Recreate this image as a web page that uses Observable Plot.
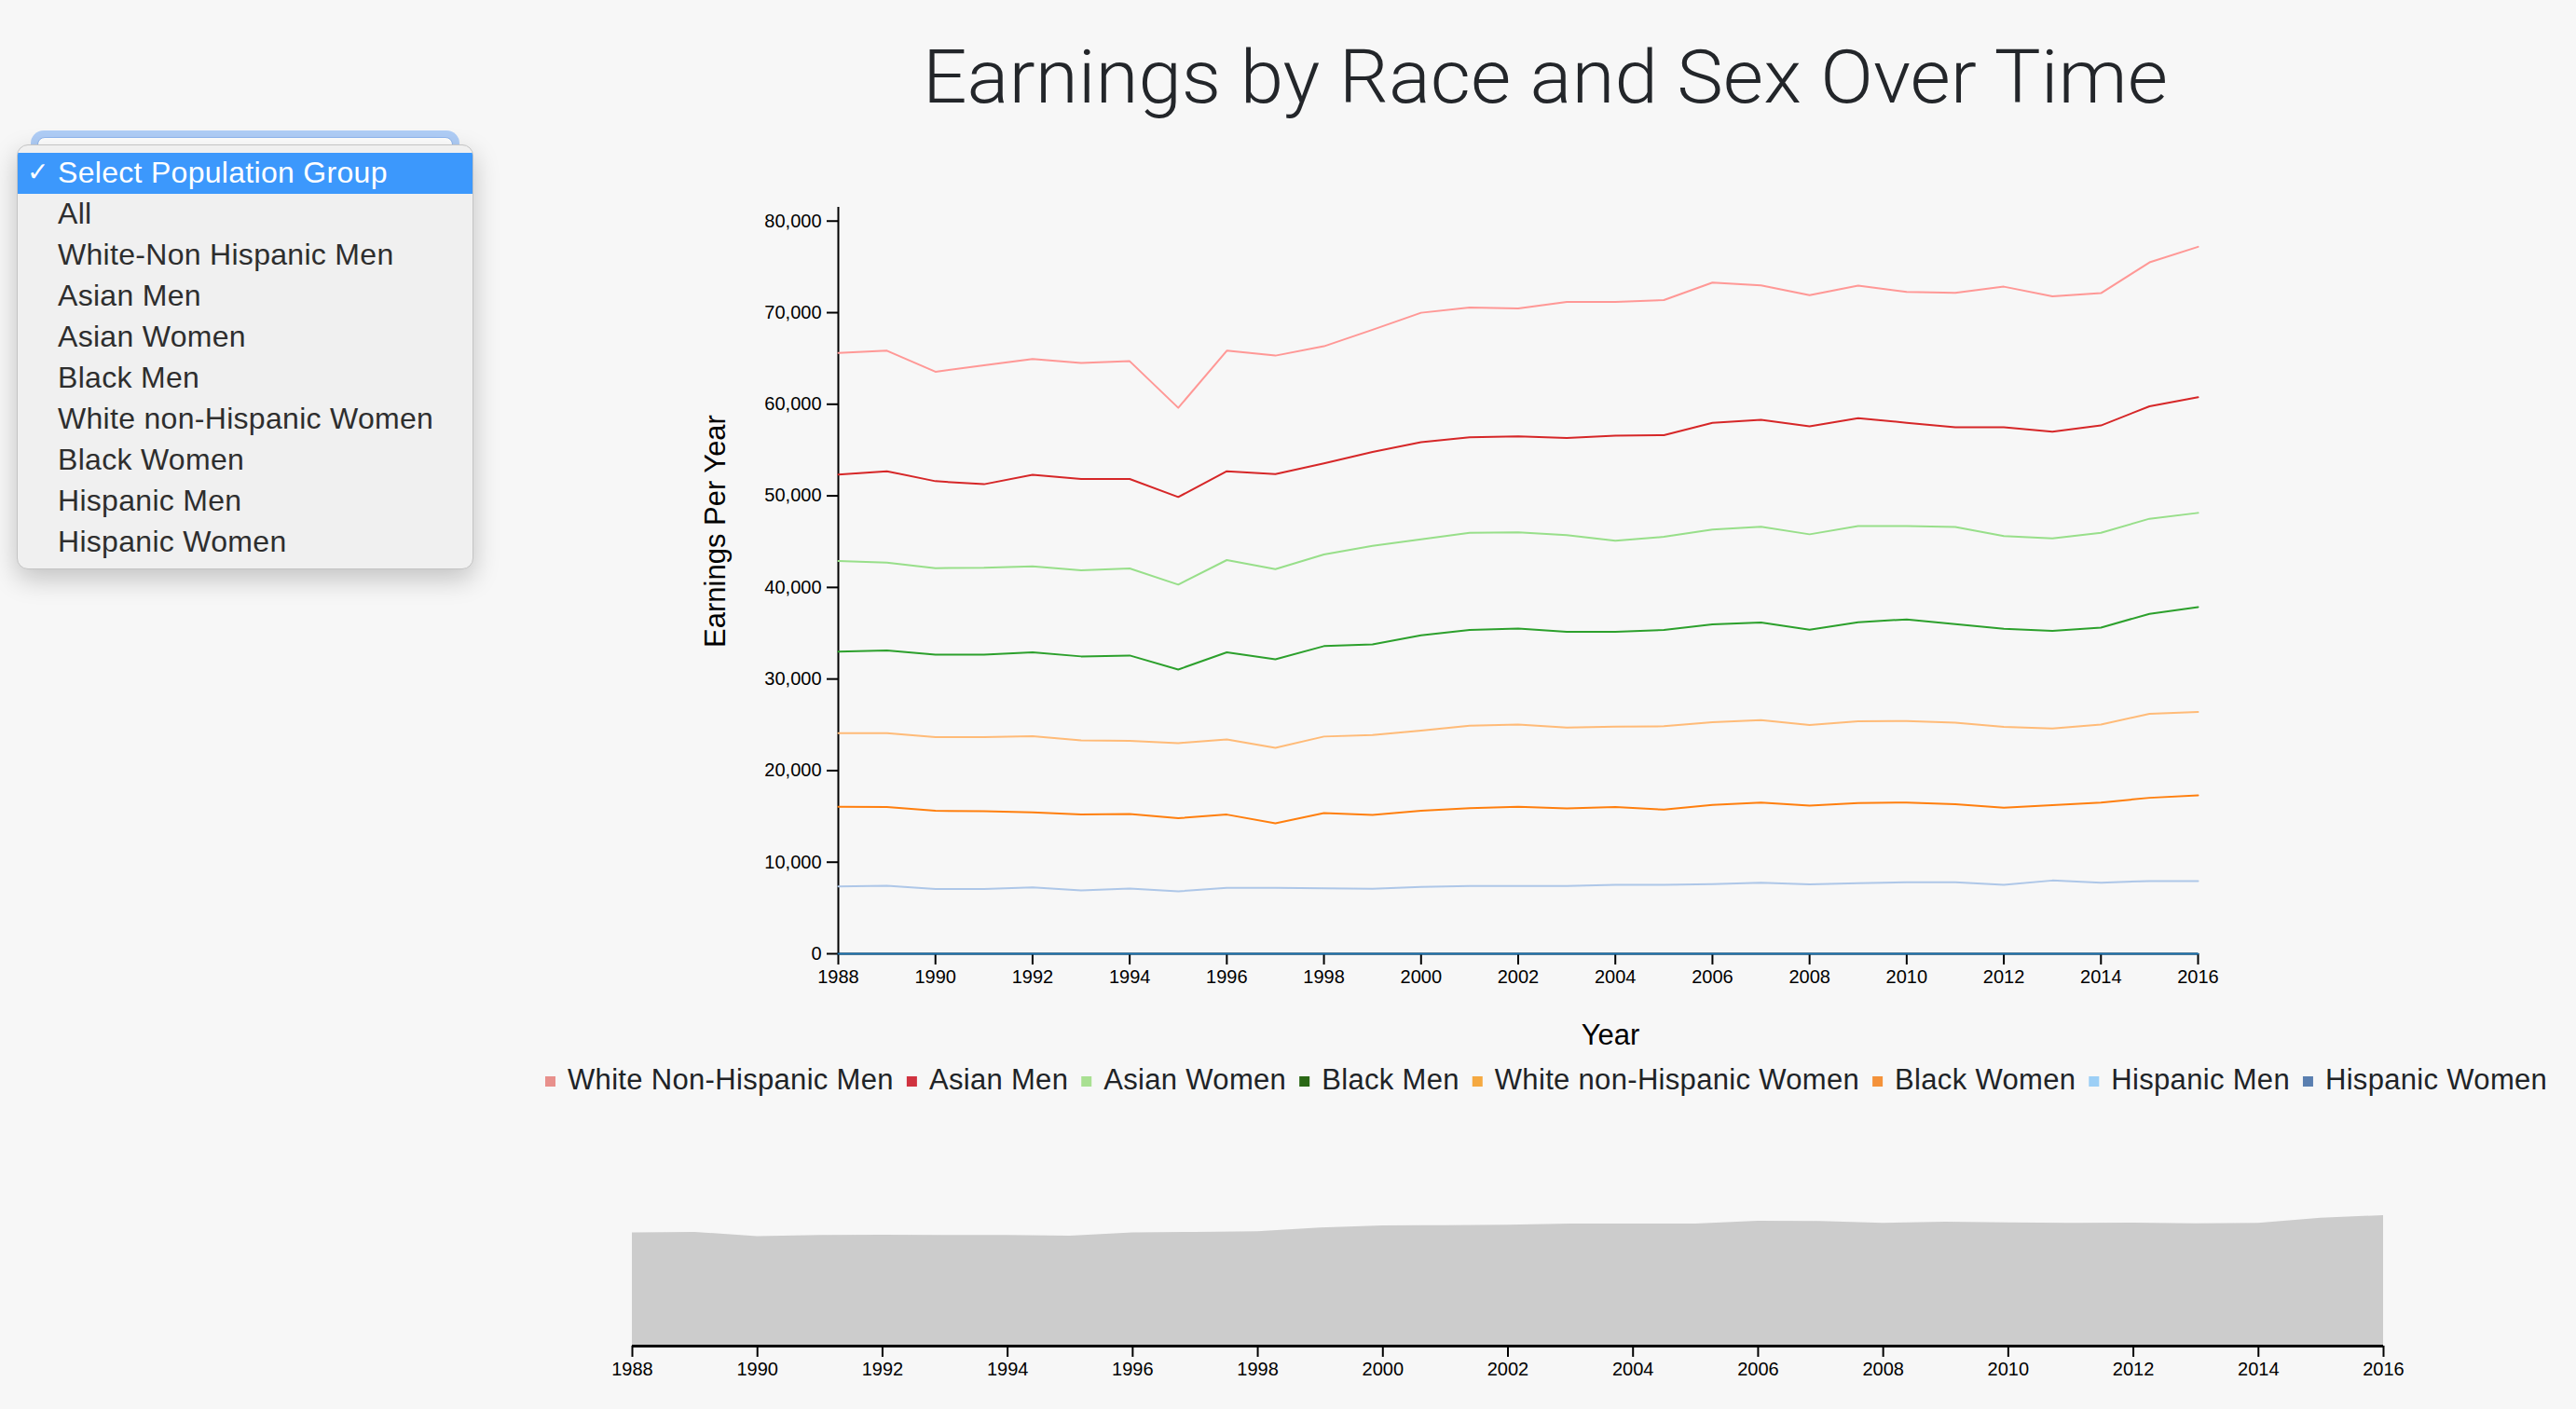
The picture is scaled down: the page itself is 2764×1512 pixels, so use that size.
<!DOCTYPE html>
<html>
<head>
<meta charset="utf-8">
<script src="https://cdn.jsdelivr.net/npm/d3@7"></script>
<script src="https://cdn.jsdelivr.net/npm/@observablehq/plot@0.6"></script>
<style>
html, body { margin: 0; padding: 0; background: #f7f7f7; }
body { width: 2764px; height: 1512px; position: relative; overflow: hidden; font-family: "Liberation Sans", Arial, Helvetica, sans-serif; }
#main { position: absolute; left: 700px; top: 200px; }
#context { position: absolute; left: 600px; top: 1280px; }
#overlay { position: absolute; left: 0; top: 0; pointer-events: none; }
[aria-label="x-axis tick"], [aria-label="y-axis tick"] { stroke-width: 2px; }
#ring { position: absolute; left: 33px; top: 140px; width: 460px; height: 60px; border-radius: 14px; background: #afcdf6; }
#ring .inner { position: absolute; left: 7px; top: 7px; right: 7px; bottom: 7px; border-radius: 8px; background: #fff; border: 1px solid #8fb6ef; }
#menu { position: absolute; left: 18px; top: 155px; width: 490px; height: 456px; box-sizing: border-box; background: #f0f0f0; border: 1px solid #c4c4c4; border-radius: 12px; box-shadow: 0 10px 28px rgba(0,0,0,0.22); padding-top: 8px; overflow: hidden; }
#menu .row { height: 44px; line-height: 42px; padding-left: 43px; font-size: 32px; letter-spacing: 0.3px; color: #2e2e2e; position: relative; white-space: nowrap; }
#menu .row.sel { background: #3c98fc; color: #fff; }
#menu .row .chk { position: absolute; left: 10px; top: 0; font-family: "DejaVu Sans", sans-serif; font-size: 28px; font-weight: bold; }
</style>
</head>
<body>
<div id="ring"><div class="inner"></div></div>
<div id="menu"></div>
<div id="main"></div>
<div id="context"></div>
<script>
// ---- data ----
const years = [1988, 1989, 1990, 1991, 1992, 1993, 1994, 1995, 1996, 1997, 1998, 1999, 2000, 2001, 2002,
  2003, 2004, 2005, 2006, 2007, 2008, 2009, 2010, 2011, 2012, 2013, 2014, 2015, 2016];
const groups = ["White Non-Hispanic Men", "Asian Men", "Asian Women", "Black Men",
  "White non-Hispanic Women", "Black Women", "Hispanic Men", "Hispanic Women"];
const menuOptions = ["Select Population Group", "All", "White-Non Hispanic Men", "Asian Men", "Asian Women",
  "Black Men", "White non-Hispanic Women", "Black Women", "Hispanic Men", "Hispanic Women"];
const yTicks = [0, 10000, 20000, 30000, 40000, 50000, 60000, 70000, 80000];
const xTicks = [1988, 1990, 1992, 1994, 1996, 1998, 2000, 2002, 2004, 2006, 2008, 2010, 2012, 2014, 2016];

const whiteNonHispanicMen = [65600, 65850, 63550, 64260, 64940, 64500, 64700, 59610, 65850, 65310,
  66330, 68130, 69990, 70570, 70470, 71180, 71180, 71380, 73280, 72980, 71900, 72950, 72270, 72170, 72840, 71790, 72130, 75490, 77190];
const asianMen = [52320, 52690, 51600, 51270, 52290, 51840, 51840, 49870, 52690, 52380,
  53540, 54800, 55850, 56390, 56490, 56320, 56560, 56630, 57980, 58290, 57580, 58490, 57980, 57480, 57480, 57000, 57680, 59780, 60760];
const asianWomen = [42890, 42720, 42110, 42140, 42310, 41870, 42080, 40310, 42990, 42000,
  43600, 44550, 45260, 45970, 46010, 45700, 45090, 45530, 46310, 46620, 45800, 46700, 46700, 46600, 45600, 45360, 45970, 47500, 48140];
const blackMen = [32980, 33120, 32670, 32670, 32910, 32470, 32570, 31040, 32910, 32160,
  33590, 33790, 34780, 35360, 35520, 35150, 35150, 35360, 35970, 36170, 35390, 36200, 36510, 36000, 35490, 35250, 35620, 37120, 37860];
const whiteNonHispanicWomen = [24090, 24090, 23650, 23650, 23750, 23310, 23240, 23000, 23410, 22490,
  23720, 23890, 24360, 24910, 25040, 24700, 24800, 24840, 25280, 25520, 24970, 25380, 25410, 25240, 24770, 24600, 25040, 26190, 26400];
const blackWomen = [16050, 16020, 15610, 15580, 15440, 15200, 15270, 14800, 15200, 14250,
  15370, 15170, 15610, 15910, 16050, 15880, 16020, 15740, 16250, 16520, 16180, 16450, 16520, 16320, 15950, 16220, 16520, 17030, 17300];
const hispanicMen = [7360, 7430, 7060, 7060, 7260, 6920, 7130, 6820, 7190, 7190,
  7160, 7090, 7290, 7400, 7400, 7400, 7530, 7530, 7600, 7770, 7570, 7700, 7800, 7800, 7530, 8000, 7770, 7940, 7940];
const hispanicWomen = [0, 0, 0, 0, 0, 0, 0, 0, 0, 0,
  0, 0, 0, 0, 0, 0, 0, 0, 0, 0, 0, 0, 0, 0, 0, 0, 0, 0, 0];
// overview (brush) area values
const contextValues = [66940, 67300, 64750, 65470, 65650, 65470, 65470, 65100, 66940, 67300,
  67670, 69870, 71150, 71330, 71520, 72250, 72250, 72250, 73910, 73720, 72620, 73360, 72990, 72620, 72800, 72430, 72620, 75740, 77200];

// ---- styles ----
const lineColors = ["#ff9896", "#d62728", "#98df8a", "#2ca02c", "#ffbb78", "#ff7f0e", "#aec7e8", "#1f77b4"];
const swatchColors = ["#e8908c", "#d0323f", "#a9e092", "#2a6815", "#f5a941", "#f4923a", "#9ccff6", "#5a7fb0"];
const fontFamily = '"Liberation Sans", Arial, Helvetica, sans-serif';

// ---- build tables ----
const series = [whiteNonHispanicMen, asianMen, asianWomen, blackMen, whiteNonHispanicWomen, blackWomen, hispanicMen, hispanicWomen];
const data = groups.flatMap((g, i) => years.map((yr, j) => ({group: g, year: yr, value: series[i][j]})));
const contextData = years.map((yr, j) => ({year: yr, value: contextValues[j]}));

// ---- main chart ----
const main = Plot.plot({
  width: 1750, height: 900,
  marginLeft: 199, marginRight: 92, marginTop: 22, marginBottom: 77,
  style: {background: "transparent", fontSize: "20px", fontFamily, color: "#000", overflow: "visible"},
  x: {domain: [1988, 2016], ticks: xTicks, tickFormat: d => String(d), tickSize: 12, tickPadding: 5, label: null},
  y: {domain: [0, 81500], ticks: yTicks, tickFormat: d3.format(","), tickSize: 12, tickPadding: 6, label: null},
  color: {domain: groups, range: lineColors},
  marks: [
    Plot.ruleX([1988], {stroke: "#000", strokeWidth: 2}),
    Plot.ruleY([0], {stroke: "#000", strokeWidth: 2}),
    Plot.line(data, {x: "year", y: "value", z: "group", stroke: "group", strokeWidth: 2})
  ]
});
document.getElementById("main").appendChild(main);

// ---- context (brush) chart ----
const context = Plot.plot({
  width: 2000, height: 232,
  marginLeft: 78, marginRight: 43, marginTop: 24, marginBottom: 68,
  style: {background: "transparent", fontSize: "20px", fontFamily, color: "#000", overflow: "visible"},
  x: {domain: [1988, 2016], ticks: xTicks, tickFormat: d => String(d), tickSize: 12, tickPadding: 5, label: null},
  y: {domain: [0, 77200], axis: null},
  marks: [
    Plot.areaY(contextData, {x: "year", y: "value", fill: "#cccccc"}),
    Plot.ruleY([0], {stroke: "#000", strokeWidth: 3})
  ]
});
document.getElementById("context").appendChild(context);

// ---- dropdown menu ----
const menu = d3.select("#menu");
menuOptions.forEach((o, i) => {
  const row = menu.append("div").attr("class", "row" + (i === 0 ? " sel" : ""));
  if (i === 0) row.append("span").attr("class", "chk").text("\u2713");
  row.append("span").text(o);
});

// ---- overlay texts: title, axis labels, legend ----
const ov = d3.select("body").append("svg").attr("id", "overlay")
  .attr("width", 2764).attr("height", 1512);
ov.append("text")
  .attr("x", 990).attr("y", 110)
  .attr("textLength", 1336).attr("lengthAdjust", "spacingAndGlyphs")
  .style("font-family", "Roboto, 'Liberation Sans', sans-serif").style("font-weight", 300)
  .style("font-size", "80px").attr("fill", "#23262a")
  .text("Earnings by Race and Sex Over Time");
ov.append("text")
  .attr("transform", "translate(778,570) rotate(-90)")
  .attr("text-anchor", "middle")
  .style("font-family", fontFamily).style("font-size", "31px").attr("fill", "#000")
  .text("Earnings Per Year");
ov.append("text")
  .attr("x", 1728).attr("y", 1121).attr("text-anchor", "middle")
  .style("font-family", fontFamily).style("font-size", "31px").attr("fill", "#000")
  .text("Year");
let lx = 585;
groups.forEach((g, i) => {
  ov.append("rect").attr("x", lx).attr("y", 1155).attr("width", 11).attr("height", 11).attr("fill", swatchColors[i]);
  const t = ov.append("text").attr("x", lx + 24).attr("y", 1169)
    .style("font-family", fontFamily).style("font-size", "31px").style("letter-spacing", "0.32px")
    .attr("fill", "#202326").text(g);
  lx = lx + 24 + t.node().getComputedTextLength() + 14;
});
</script>
</body>
</html>
